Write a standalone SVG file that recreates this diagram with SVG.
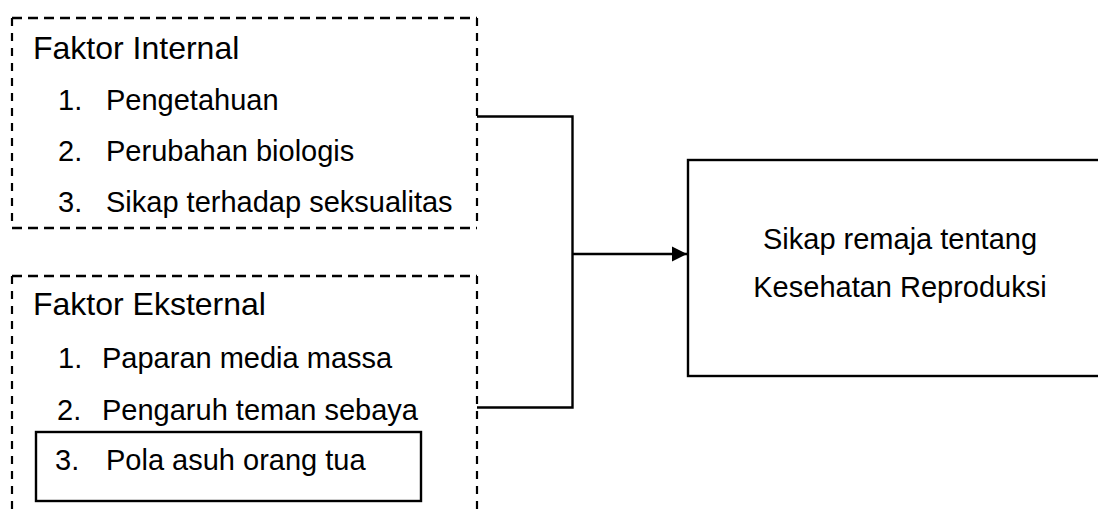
<svg xmlns="http://www.w3.org/2000/svg" width="1098" height="515" viewBox="0 0 1098 515">
  <style>
    .dh { fill: none; stroke: #000; stroke-width: 2.4; stroke-dasharray: 10 6; }
    .dv { fill: none; stroke: #000; stroke-width: 2.2; stroke-dasharray: 8 7; }
    .solid { fill: none; stroke: #000; stroke-width: 2.4; }
    .conn { fill: none; stroke: #000; stroke-width: 2.4; }
    .h { font-family: "Liberation Sans", Arial, sans-serif; font-size: 32px; fill: #000; }
    .t { font-family: "Liberation Sans", Arial, sans-serif; font-size: 29px; fill: #000; }
  </style>
  <defs>
    <marker id="arrow" markerUnits="userSpaceOnUse" markerWidth="16" markerHeight="16" refX="15" refY="8" orient="auto">
      <path d="M0,0.5 L15,8 L0,15.5 Z" fill="#000"/>
    </marker>
  </defs>
  <rect width="1098" height="515" fill="#fff"/>

  <g id="faktor-internal">
    <line class="dh" x1="12" y1="18" x2="477" y2="18"/>
    <line class="dh" x1="12" y1="228" x2="477" y2="228"/>
    <line class="dv" x1="12" y1="18" x2="12" y2="228"/>
    <line class="dv" x1="477" y1="18" x2="477" y2="228"/>
    <text class="h" x="33" y="59">Faktor Internal</text>
    <text class="t" x="58" y="110">1.</text>
    <text class="t" x="106" y="110">Pengetahuan</text>
    <text class="t" x="58" y="161">2.</text>
    <text class="t" x="106" y="161">Perubahan biologis</text>
    <text class="t" x="58" y="212">3.</text>
    <text class="t" x="106" y="212">Sikap terhadap seksualitas</text>
  </g>

  <g id="faktor-eksternal">
    <line class="dh" x1="12" y1="276" x2="477" y2="276"/>
    <line class="dv" x1="12" y1="276" x2="12" y2="520"/>
    <line class="dv" x1="477" y1="276" x2="477" y2="520"/>
    <text class="h" x="33" y="315">Faktor Eksternal</text>
    <text class="t" x="58" y="368">1.</text>
    <text class="t" x="102" y="368">Paparan media massa</text>
    <text class="t" x="57" y="420">2.</text>
    <text class="t" x="102" y="420">Pengaruh teman sebaya</text>
  </g>

  <g id="pola-asuh">
    <rect class="solid" x="36" y="432" width="385" height="69"/>
    <text class="t" x="55" y="470">3.</text>
    <text class="t" x="106" y="470">Pola asuh orang tua</text>
  </g>

  <g id="sikap-remaja">
    <rect class="solid" x="688" y="160" width="430" height="216" stroke-width="2.6"/>
    <text class="t" x="900" y="249" text-anchor="middle">Sikap remaja tentang</text>
    <text class="t" x="900" y="297" text-anchor="middle">Kesehatan Reproduksi</text>
  </g>

  <g id="connectors">
    <polyline class="conn" points="477,116.5 572.5,116.5 572.5,407.5 477,407.5"/>
    <line class="conn" x1="572.5" y1="254" x2="687" y2="254" marker-end="url(#arrow)"/>
  </g>
</svg>
